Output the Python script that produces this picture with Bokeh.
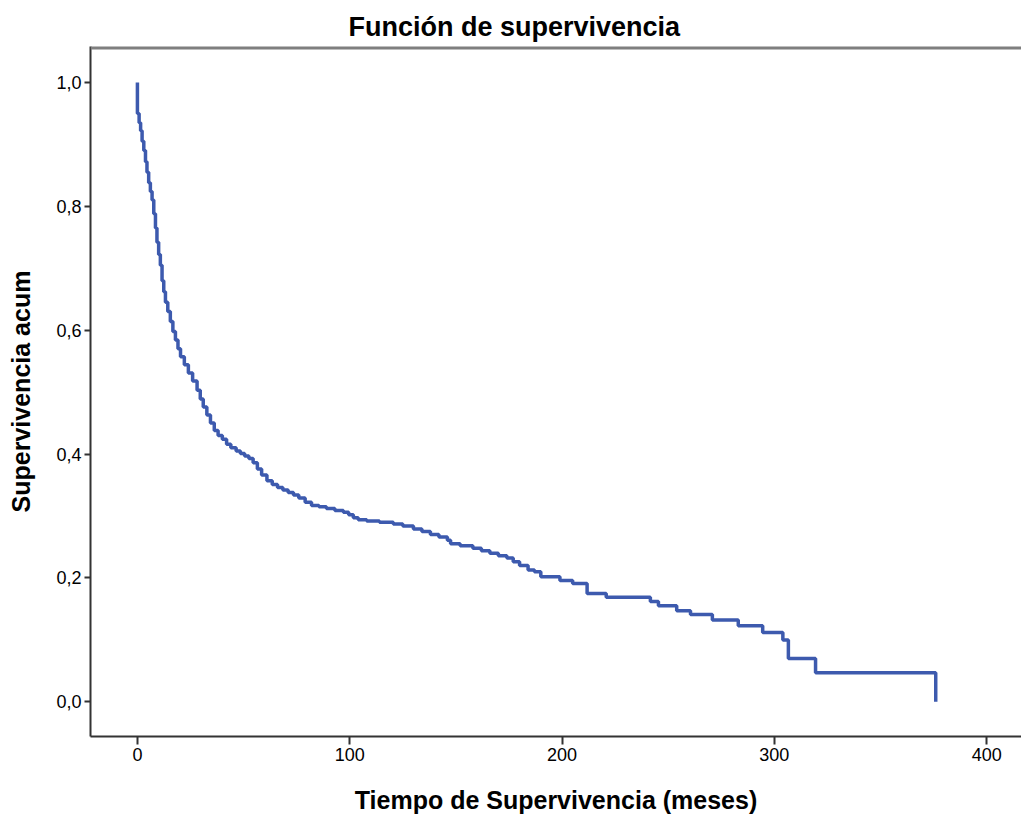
from bokeh.plotting import figure
from bokeh.models import Range1d, Span, FixedTicker, CustomJSTickFormatter
from bokeh.embed import file_html
from bokeh.resources import INLINE

# Kaplan-Meier estimate (time in months, cumulative survival)
tiempo = [0, 0, 0.8, 1.5, 2.2, 3.0, 3.8, 4.5, 5.3, 6.1, 6.9, 7.7, 8.5, 9.2, 10.0,
          10.8, 11.6, 12.4, 13.2, 14.3, 15.5, 16.7, 17.9, 19.1, 20.3, 22.1, 24.0,
          26.0, 28.1, 29.6, 31.0, 32.7, 34.4, 36.2, 38.0, 40.0, 42.0, 44.0, 46.5,
          48.5, 50.5, 52.5, 54.5, 56.5, 58.5, 61.0, 63.5, 66.0, 68.5, 71.0, 73.5,
          76.0, 79.0, 82.0, 85.5, 89.0, 93.0, 97.0, 99.5, 101.7, 104.0, 108.0,
          114.0, 120.5, 125.0, 130.0, 134.0, 138.0, 142.0, 146.0, 147.5, 152.0,
          158.0, 162.0, 166.0, 170.0, 174.0, 177.0, 180.0, 184.0, 187.0, 190.0,
          199.0, 205.0, 211.8, 220.8, 241.6, 245.4, 254.0, 260.5, 270.8, 283.0,
          294.5, 304.0, 306.6, 319.4, 376.0]
supervivencia = [1.000, 0.950, 0.935, 0.922, 0.905, 0.890, 0.872, 0.855, 0.838,
                 0.824, 0.810, 0.788, 0.765, 0.742, 0.722, 0.705, 0.680, 0.662,
                 0.645, 0.630, 0.614, 0.598, 0.584, 0.570, 0.557, 0.544, 0.531,
                 0.518, 0.503, 0.489, 0.476, 0.463, 0.450, 0.438, 0.430, 0.424,
                 0.416, 0.410, 0.405, 0.401, 0.397, 0.393, 0.386, 0.376, 0.366,
                 0.357, 0.351, 0.346, 0.342, 0.338, 0.334, 0.329, 0.322, 0.317,
                 0.315, 0.312, 0.309, 0.306, 0.302, 0.297, 0.294, 0.292, 0.290,
                 0.287, 0.284, 0.279, 0.275, 0.270, 0.266, 0.261, 0.255, 0.252,
                 0.248, 0.244, 0.240, 0.236, 0.232, 0.226, 0.220, 0.213, 0.210,
                 0.202, 0.196, 0.191, 0.175, 0.169, 0.162, 0.155, 0.147, 0.141,
                 0.132, 0.123, 0.112, 0.100, 0.070, 0.047, 0.000]

x_ticks = [0, 100, 200, 300, 400]
y_ticks = [0.0, 0.2, 0.4, 0.6, 0.8, 1.0]

titulo = "Función de supervivencia"
etiqueta_x = "Tiempo de Supervivencia (meses)"
etiqueta_y = "Supervivencia acum"

FONT = "Liberation Sans"

p = figure(width=1021, height=816, output_backend="svg", toolbar_location=None,
           x_range=Range1d(-22.1, 416.4), y_range=Range1d(-0.056, 1.058),
           min_border_left=90, min_border_right=0, min_border_top=46,
           min_border_bottom=79, title=titulo)

p.step(tiempo, supervivencia, mode="after", line_color="#3D5AAE", line_width=3.5)

p.grid.visible = False
p.outline_line_color = None
p.background_fill_color = "white"
p.border_fill_color = "white"

top_line = Span(location=1.058, dimension="width", line_color="#7f7f7f", line_width=6)
p.add_layout(top_line)

p.title.text_font = FONT
p.title.text_font_size = "27px"
p.title.text_font_style = "bold"
p.title.align = "left"
p.title.offset = 258
p.title.text_color = "black"

for ax in (p.xaxis[0], p.yaxis[0]):
    ax.axis_line_color = "#333333"
    ax.axis_line_width = 2
    ax.major_tick_line_color = "#333333"
    ax.major_tick_line_width = 2
    ax.minor_tick_line_color = None
    ax.major_tick_in = 0
    ax.major_label_text_font = FONT
    ax.major_label_text_font_size = "18px"
    ax.major_label_text_color = "black"
    ax.axis_label_text_font = FONT
    ax.axis_label_text_font_size = "25px"
    ax.axis_label_text_font_style = "bold"
    ax.axis_label_text_color = "black"

p.xaxis[0].ticker = FixedTicker(ticks=x_ticks)
p.xaxis[0].major_tick_out = 8
p.xaxis[0].major_label_standoff = 3
p.xaxis[0].axis_label = etiqueta_x
p.xaxis[0].axis_label_standoff = 22

p.yaxis[0].ticker = FixedTicker(ticks=y_ticks)
p.yaxis[0].major_tick_out = 6
p.yaxis[0].major_label_standoff = 3
p.yaxis[0].axis_label = etiqueta_y
p.yaxis[0].axis_label_standoff = 18
p.yaxis[0].formatter = CustomJSTickFormatter(code="return tick.toFixed(1).replace('.', ',');")

open("out.html", "w").write(file_html(p, INLINE))
